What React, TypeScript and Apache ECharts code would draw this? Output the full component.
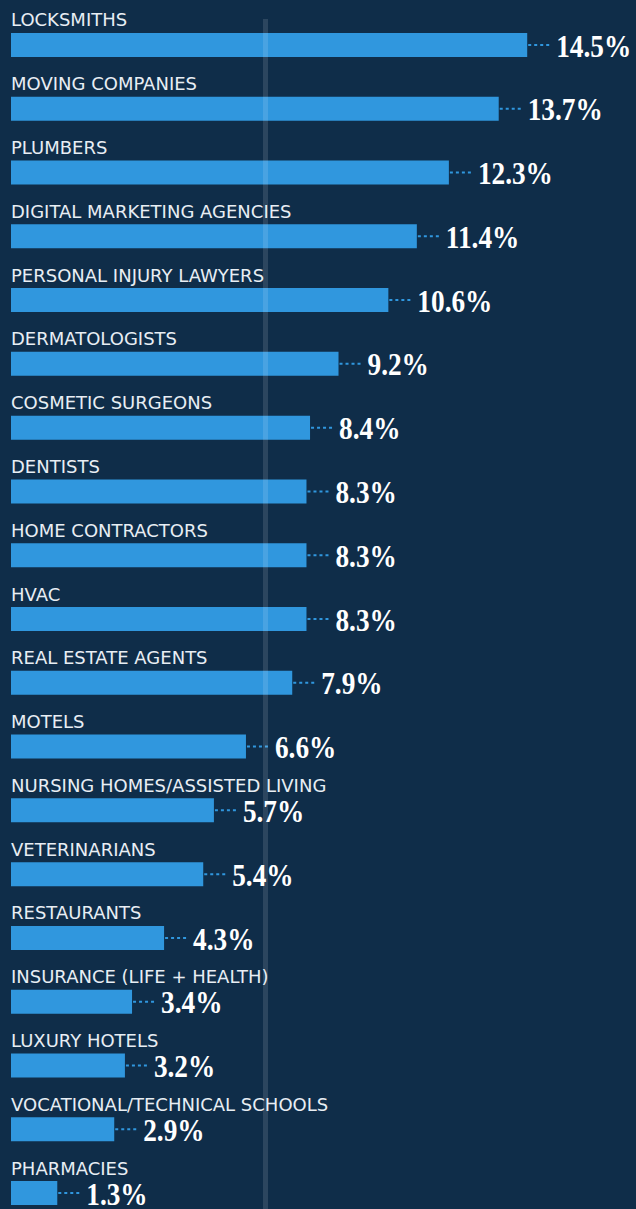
import React, { useEffect, useRef } from "react";
import * as echarts from "echarts";

const categories = [
  "LOCKSMITHS",
  "MOVING COMPANIES",
  "PLUMBERS",
  "DIGITAL MARKETING AGENCIES",
  "PERSONAL INJURY LAWYERS",
  "DERMATOLOGISTS",
  "COSMETIC SURGEONS",
  "DENTISTS",
  "HOME CONTRACTORS",
  "HVAC",
  "REAL ESTATE AGENTS",
  "MOTELS",
  "NURSING HOMES/ASSISTED LIVING",
  "VETERINARIANS",
  "RESTAURANTS",
  "INSURANCE (LIFE + HEALTH)",
  "LUXURY HOTELS",
  "VOCATIONAL/TECHNICAL SCHOOLS",
  "PHARMACIES",
];

const values = [14.5, 13.7, 12.3, 11.4, 10.6, 9.2, 8.4, 8.3, 8.3, 8.3, 7.9, 6.6, 5.7, 5.4, 4.3, 3.4, 3.2, 2.9, 1.3];

const BG = "#0f2d49";
const BAR = "#3097de";

export default function App() {
  const ref = useRef<HTMLDivElement>(null);
  useEffect(() => {
    document.body.style.margin = "0";
    const chart = echarts.init(ref.current!, null, { renderer: "svg" });
    chart.setOption({
      animation: false,
      backgroundColor: BG,
      grid: { left: 11, top: 13, width: 623, height: 1212, containLabel: false },
      xAxis: { type: "value", min: 0, max: 17.5, show: false },
      yAxis: { type: "category", data: categories, inverse: true, show: false },
      series: [
        {
          type: "bar",
          data: values,
          barWidth: 24,
          itemStyle: { color: BAR },
          silent: true,
        },
        {
          type: "custom",
          data: values.map((v, i) => [v, i]),
          encode: { x: 0, y: 1 },
          renderItem: (params: any, api: any) => {
            const v = api.value(0);
            const idx = api.value(1);
            const end = api.coord([v, idx]);
            const start = api.coord([0, idx]);
            const cy = end[1];
            const lx = end[0] + 29;
            return {
              type: "group",
              children: [
                {
                  type: "text",
                  style: {
                    x: start[0],
                    y: cy - 25,
                    text: categories[idx],
                    fill: "#e8eef4",
                    font: "400 18px 'DejaVu Sans', sans-serif",
                    verticalAlign: "middle",
                    align: "left",
                  },
                },
                {
                  type: "line",
                  shape: { x1: end[0] + 1, y1: cy, x2: end[0] + 25, y2: cy },
                  style: { stroke: BAR, lineWidth: 2, lineDash: [3, 3] },
                },
                {
                  type: "text",
                  x: lx,
                  y: cy + 1,
                  scaleX: 0.88,
                  style: {
                    x: 0,
                    y: 0,
                    text: v.toFixed(1) + "%",
                    fill: "#ffffff",
                    font: "700 31px 'Liberation Serif', serif",
                    verticalAlign: "middle",
                    align: "left",
                  },
                },
              ],
            };
          },
        },
      ],
      graphic: [
        {
          type: "rect",
          shape: { x: 263, y: 19, width: 5, height: 1200 },
          style: { fill: "rgba(255,255,255,0.12)" },
          z: 100,
          silent: true,
        },
      ],
    });
    return () => chart.dispose();
  }, []);
  return (
    <div style={{ position: "absolute", left: 0, top: 0, width: 636, height: 1209, overflow: "hidden", background: BG }}>
      <div ref={ref} style={{ width: 636, height: 1240 }} />
    </div>
  );
}
